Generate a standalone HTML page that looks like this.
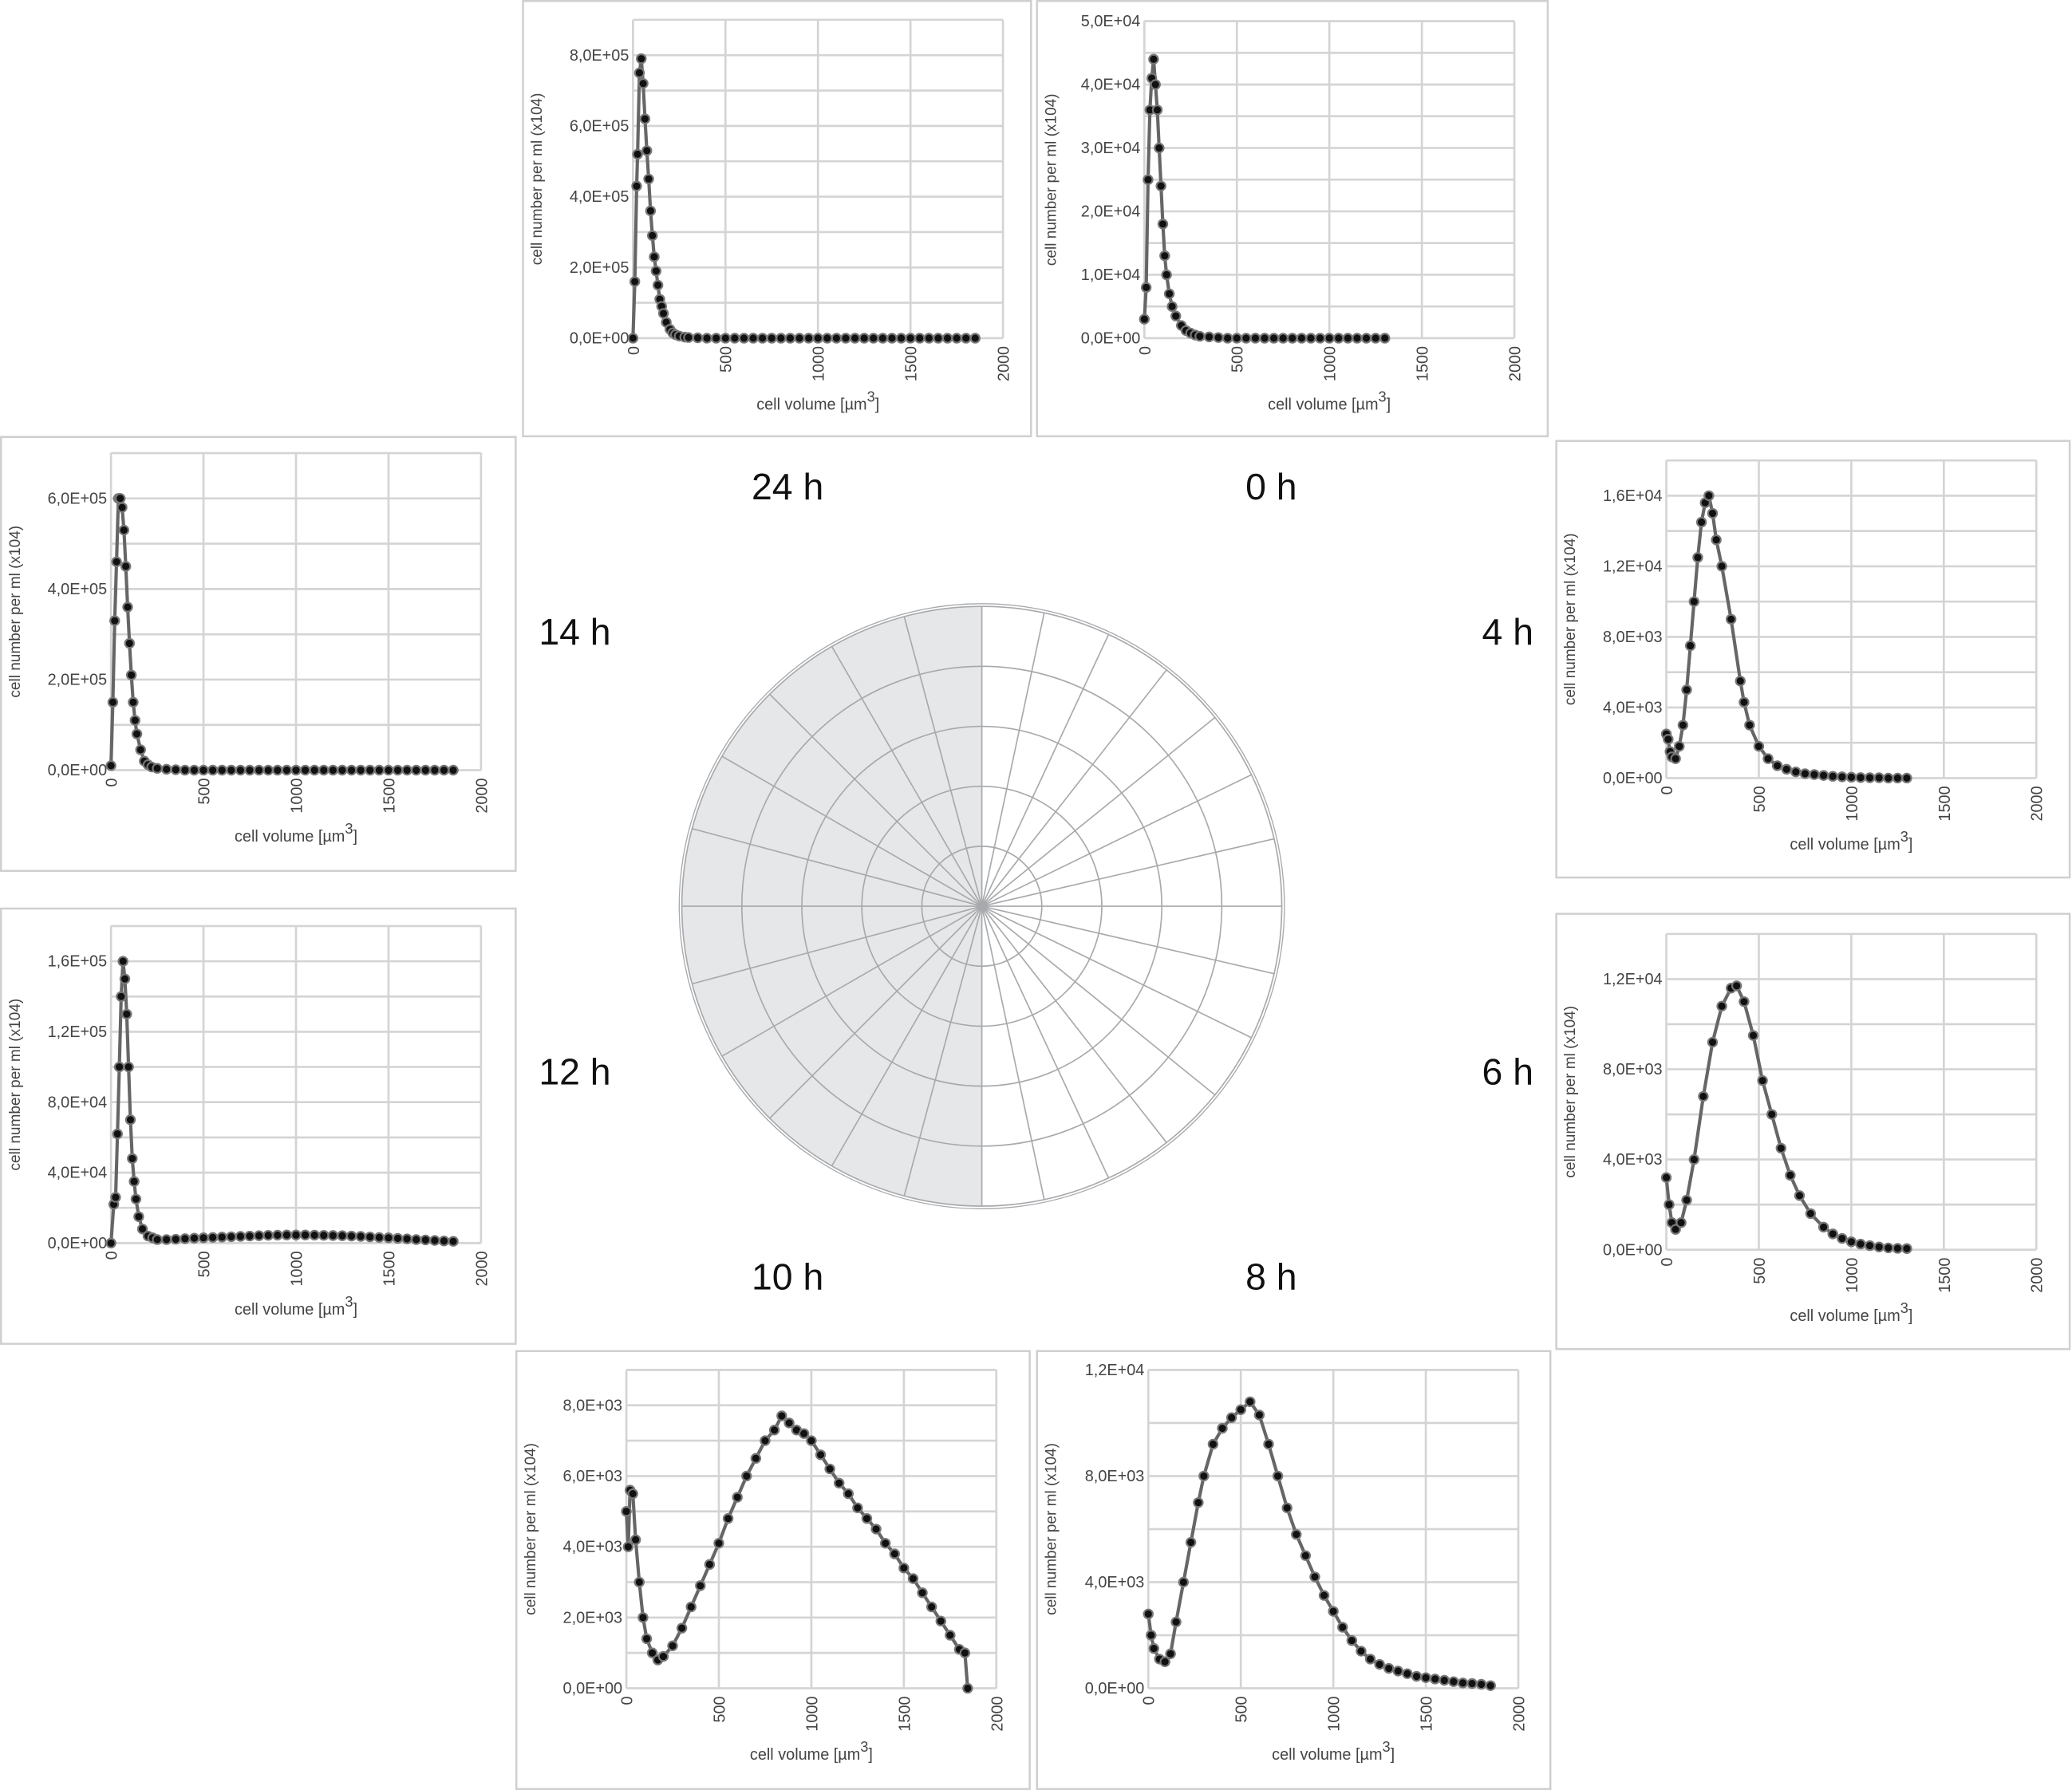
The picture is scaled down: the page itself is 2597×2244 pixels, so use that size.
<!DOCTYPE html>
<html><head><meta charset="utf-8"><style>
html,body{margin:0;padding:0;background:#fff}
svg{display:block}
text{font-family:"Liberation Sans",sans-serif}
</style></head><body>
<svg id="fig" xmlns="http://www.w3.org/2000/svg" width="2597" height="2244" viewBox="0 0 1568 1355" preserveAspectRatio="none">
<g id="polar"></g>
<g id="panels"></g>
<g font-size="28" fill="#111" text-anchor="middle">
<text x="596" y="378">24 h</text>
<text x="962" y="378">0 h</text>
<text x="435" y="488">14 h</text>
<text x="1141" y="488">4 h</text>
<text x="435" y="821">12 h</text>
<text x="1141" y="821">6 h</text>
<text x="596" y="976">10 h</text>
<text x="962" y="976">8 h</text>
</g>
</svg>
<script>
// ---- data (x: cell volume µm³, y: cells per ml) ----
const X24=[0,10,20,25,35,45,55,65,75,85,95,105,115,125,135,145,155,165,180,200,215,230,250,280,300,350,400,450,500,550,600,650,700,750,800,850,900,950,1000,1050,1100,1150,1200,1250,1300,1350,1400,1450,1500,1550,1600,1650,1700,1750,1800,1850];
const Y24=[0,1.6e5,4.3e5,5.2e5,7.5e5,7.9e5,7.2e5,6.2e5,5.3e5,4.5e5,3.6e5,2.9e5,2.3e5,1.9e5,1.5e5,1.1e5,0.9e5,0.7e5,0.45e5,0.25e5,0.15e5,0.1e5,0.06e5,0.03e5,0.02e5,0.01e5,0,0,0,0,0,0,0,0,0,0,0,0,0,0,0,0,0,0,0,0,0,0,0,0,0,0,0,0,0,0];
const X0=[0,10,20,30,40,50,60,70,80,90,100,110,120,135,150,170,200,225,250,275,300,350,400,450,500,550,600,650,700,750,800,850,900,950,1000,1050,1100,1150,1200,1250,1300];
const Y0=[0.3e4,0.8e4,2.5e4,3.6e4,4.1e4,4.4e4,4.0e4,3.6e4,3.0e4,2.4e4,1.8e4,1.3e4,1.0e4,0.7e4,0.5e4,0.35e4,0.2e4,0.12e4,0.08e4,0.05e4,0.03e4,0.02e4,0.01e4,0,0,0,0,0,0,0,0,0,0,0,0,0,0,0,0,0,0];
const X14=[0,10,20,30,40,50,60,70,80,90,100,110,120,130,140,160,180,200,220,250,300,350,400,450,500,550,600,650,700,750,800,850,900,950,1000,1050,1100,1150,1200,1250,1300,1350,1400,1450,1500,1550,1600,1650,1700,1750,1800,1850];
const Y14=[0.1e5,1.5e5,3.3e5,4.6e5,6.0e5,6.0e5,5.8e5,5.3e5,4.5e5,3.6e5,2.8e5,2.1e5,1.5e5,1.1e5,0.8e5,0.45e5,0.2e5,0.12e5,0.07e5,0.04e5,0.02e5,0.01e5,0,0,0,0,0,0,0,0,0,0,0,0,0,0,0,0,0,0,0,0,0,0,0,0,0,0,0,0,0,0];
const X12=[0,15,25,35,45,55,65,75,85,95,105,115,125,135,150,170,200,225,250,300,350,400,450,500,550,600,650,700,750,800,850,900,950,1000,1050,1100,1150,1200,1250,1300,1350,1400,1450,1500,1550,1600,1650,1700,1750,1800,1850];
const Y12=[0,2.2e4,2.6e4,6.2e4,10e4,14e4,16e4,15e4,13e4,10e4,7e4,4.8e4,3.5e4,2.5e4,1.5e4,0.8e4,0.4e4,0.3e4,0.2e4,0.2e4,0.22e4,0.25e4,0.28e4,0.3e4,0.32e4,0.34e4,0.36e4,0.38e4,0.4e4,0.42e4,0.44e4,0.45e4,0.46e4,0.46e4,0.46e4,0.45e4,0.44e4,0.43e4,0.42e4,0.4e4,0.38e4,0.35e4,0.32e4,0.3e4,0.27e4,0.24e4,0.2e4,0.18e4,0.15e4,0.12e4,0.1e4];
const X4=[0,10,20,30,50,70,90,110,130,150,170,190,210,230,250,270,300,350,400,420,450,500,550,600,650,700,750,800,850,900,950,1000,1050,1100,1150,1200,1250,1300];
const Y4=[2.5e3,2.2e3,1.5e3,1.2e3,1.1e3,1.8e3,3e3,5e3,7.5e3,10e3,12.5e3,14.5e3,15.6e3,16e3,15e3,13.5e3,12e3,9e3,5.5e3,4.3e3,3e3,1.8e3,1.1e3,0.7e3,0.5e3,0.35e3,0.25e3,0.2e3,0.15e3,0.1e3,0.07e3,0.05e3,0.03e3,0.02e3,0.02e3,0,0,0];
const X6=[0,15,30,50,80,110,150,200,250,300,350,380,420,470,520,570,620,670,720,780,850,900,950,1000,1050,1100,1150,1200,1250,1300];
const Y6=[3.2e3,2e3,1.2e3,0.9e3,1.2e3,2.2e3,4e3,6.8e3,9.2e3,10.8e3,11.6e3,11.7e3,11e3,9.5e3,7.5e3,6e3,4.5e3,3.3e3,2.4e3,1.6e3,1e3,0.7e3,0.5e3,0.35e3,0.25e3,0.18e3,0.12e3,0.08e3,0.06e3,0.05e3];
const X10=[0,10,20,35,50,70,90,110,140,170,200,250,300,350,400,450,500,550,600,650,700,750,800,840,880,920,960,1000,1050,1100,1150,1200,1250,1300,1350,1400,1450,1500,1550,1600,1650,1700,1750,1800,1830,1845];
const Y10=[5e3,4e3,5.6e3,5.5e3,4.2e3,3e3,2e3,1.4e3,1e3,0.8e3,0.9e3,1.2e3,1.7e3,2.3e3,2.9e3,3.5e3,4.1e3,4.8e3,5.4e3,6e3,6.5e3,7e3,7.3e3,7.7e3,7.5e3,7.3e3,7.2e3,7e3,6.6e3,6.2e3,5.8e3,5.5e3,5.1e3,4.8e3,4.5e3,4.1e3,3.8e3,3.4e3,3.1e3,2.7e3,2.3e3,1.9e3,1.5e3,1.1e3,1.0e3,0];
const X8=[0,15,30,60,90,120,150,190,230,270,300,350,400,450,500,550,600,650,700,750,800,850,900,950,1000,1050,1100,1150,1200,1250,1300,1350,1400,1450,1500,1550,1600,1650,1700,1750,1800,1850];
const Y8=[2.8e3,2e3,1.5e3,1.1e3,1e3,1.3e3,2.5e3,4e3,5.5e3,7e3,8e3,9.2e3,9.8e3,10.2e3,10.5e3,10.8e3,10.3e3,9.2e3,8e3,6.8e3,5.8e3,5e3,4.2e3,3.5e3,2.9e3,2.3e3,1.8e3,1.4e3,1.1e3,0.9e3,0.75e3,0.65e3,0.55e3,0.45e3,0.4e3,0.35e3,0.3e3,0.25e3,0.2e3,0.18e3,0.15e3,0.1e3];
// tick values / labels
const XTICKS=[0,500,1000,1500,2000];
const YT24=[0,2e5,4e5,6e5,8e5], YL24=['0,0E+00','2,0E+05','4,0E+05','6,0E+05','8,0E+05'];
const YT0=[0,1e4,2e4,3e4,4e4,5e4], YL0=['0,0E+00','1,0E+04','2,0E+04','3,0E+04','4,0E+04','5,0E+04'];
const YT14=[0,2e5,4e5,6e5], YL14=['0,0E+00','2,0E+05','4,0E+05','6,0E+05'];
const YT12=[0,4e4,8e4,1.2e5,1.6e5], YL12=['0,0E+00','4,0E+04','8,0E+04','1,2E+05','1,6E+05'];
const YT4=[0,4e3,8e3,1.2e4,1.6e4], YL4=['0,0E+00','4,0E+03','8,0E+03','1,2E+04','1,6E+04'];
const YT6=[0,4e3,8e3,1.2e4], YL6=['0,0E+00','4,0E+03','8,0E+03','1,2E+04'];
const YT10=[0,2e3,4e3,6e3,8e3], YL10=['0,0E+00','2,0E+03','4,0E+03','6,0E+03','8,0E+03'];
const YT8=[0,4e3,8e3,1.2e4], YL8=['0,0E+00','4,0E+03','8,0E+03','1,2E+04'];

const NS='http://www.w3.org/2000/svg';
function mk(tag,attrs,parent){const e=document.createElementNS(NS,tag);for(const k in attrs)e.setAttribute(k,attrs[k]);parent.appendChild(e);return e;}

const panels=[
 {id:'24h',box:[395,0,386,331],px:[479,759],py:[256,15],ymax:9e5,grid:1e5,xs:X24,ys:Y24,yt:YT24,yl:YL24},
 {id:'0h',box:[784,0,388,331],px:[866,1146],py:[256,16],ymax:5e4,grid:5e3,xs:X0,ys:Y0,yt:YT0,yl:YL0},
 {id:'14h',box:[0,330,391,330],px:[84,364],py:[583,343],ymax:7e5,grid:1e5,xs:X14,ys:Y14,yt:YT14,yl:YL14},
 {id:'12h',box:[0,687,391,331],px:[84,364],py:[941,701],ymax:1.8e5,grid:2e4,xs:X12,ys:Y12,yt:YT12,yl:YL12},
 {id:'4h',box:[1177,333,390,332],px:[1261,1541],py:[589,348.5],ymax:1.8e4,grid:2e3,xs:X4,ys:Y4,yt:YT4,yl:YL4},
 {id:'6h',box:[1177,691,390,331],px:[1261,1541],py:[946,707],ymax:1.4e4,grid:2e3,xs:X6,ys:Y6,yt:YT6,yl:YL6},
 {id:'10h',box:[390,1022,390,333],px:[474,754],py:[1278,1037],ymax:9e3,grid:1e3,xs:X10,ys:Y10,yt:YT10,yl:YL10},
 {id:'8h',box:[784,1022,390,333],px:[869,1149],py:[1278,1037],ymax:1.2e4,grid:2e3,xs:X8,ys:Y8,yt:YT8,yl:YL8}
];
const root=document.getElementById('panels');
panels.forEach(p=>{
 const g=mk('g',{},root);
 
 
 const b=p.box;
 const fr=mk('rect',{x:b[0]+0.75,y:b[1]+0.75,width:b[2]-1.5,height:b[3]-1.5,fill:'#fff',stroke:'#cfcfcf','stroke-width':1.5},g);
 
 
 const sx=v=>p.px[0]+(p.px[1]-p.px[0])*v/2000;
 const sy=v=>p.py[0]+(p.py[1]-p.py[0])*v/p.ymax;
 const n=Math.round(p.ymax/p.grid);
 for(let i=0;i<=n;i++){const y=sy(i*p.grid);const l=mk('line',{x1:p.px[0],x2:p.px[1],y1:y,y2:y,stroke:'#d4d4d4','stroke-width':1.6},g);
  
  }
 XTICKS.forEach(v=>{const x=sx(v);const l=mk('line',{x1:x,x2:x,y1:p.py[0],y2:p.py[1],stroke:'#d4d4d4','stroke-width':1.6},g);
  
  
  const t=mk('text',{x:x+4.5,y:p.py[0]+6,'font-size':12,fill:'#444','text-anchor':'end',transform:`rotate(-90 ${x+4.5} ${p.py[0]+6})`},g);
  t.textContent=String(v);
  
  });
 p.yt.forEach((v,i)=>{const t=mk('text',{x:p.px[0]-3,y:sy(v)+4,'font-size':12,fill:'#444','text-anchor':'end'},g);
  t.textContent=p.yl[i];
  
  });
 const cy=(p.py[0]+p.py[1])/2, yx=b[0]+15;
 const yt=mk('text',{x:yx,y:cy,'font-size':11.5,fill:'#444','text-anchor':'middle',transform:`rotate(-90 ${yx} ${cy})`},g);
 yt.textContent='cell number per ml (x104)';
 
 
 const cx=(p.px[0]+p.px[1])/2;
 const xt=mk('text',{x:cx,y:p.py[0]+54,'font-size':12,fill:'#444','text-anchor':'middle'},g);
 xt.innerHTML='cell volume [µm<tspan dy="-6" font-size="11">3</tspan><tspan dy="6">]</tspan>';
 
 
 const pts=p.xs.map((x,i)=>sx(x)+','+sy(p.ys[i])).join(' ');
 const pl=mk('polyline',{points:pts,fill:'none',stroke:'#666','stroke-width':2.5,'stroke-linejoin':'round'},g);
 
 
 p.xs.forEach((x,i)=>{const c=mk('circle',{cx:sx(x),cy:sy(p.ys[i]),r:3.4,fill:'#111',stroke:'#777','stroke-width':1.3},g);
  
  });
});
// polar
const pg=document.getElementById('polar');
const C=[743,686],R=227;
const half=mk('path',{d:`M${C[0]},${C[1]-R} A${R},${R} 0 0 0 ${C[0]},${C[1]+R} Z`,fill:'#e6e7e8',stroke:'none'},pg);


for(let k=1;k<=5;k++){const c=mk('circle',{cx:C[0],cy:C[1],r:R*k/5,fill:'none',stroke:'#a7a9ac','stroke-width':1},pg);
 
 }
const outer=mk('circle',{cx:C[0],cy:C[1],r:R+2,fill:'none',stroke:'#a7a9ac','stroke-width':0.8},pg);


const angs=[];for(let a=90;a<=270;a+=15)angs.push(a);for(let a=-78;a<90;a+=13)angs.push(a);
angs.forEach(a=>{const r=a*Math.PI/180;const l=mk('line',{x1:C[0],y1:C[1],x2:C[0]+R*Math.cos(r),y2:C[1]-R*Math.sin(r),stroke:'#a7a9ac','stroke-width':1},pg);
 
 });
</script>
</body></html>
